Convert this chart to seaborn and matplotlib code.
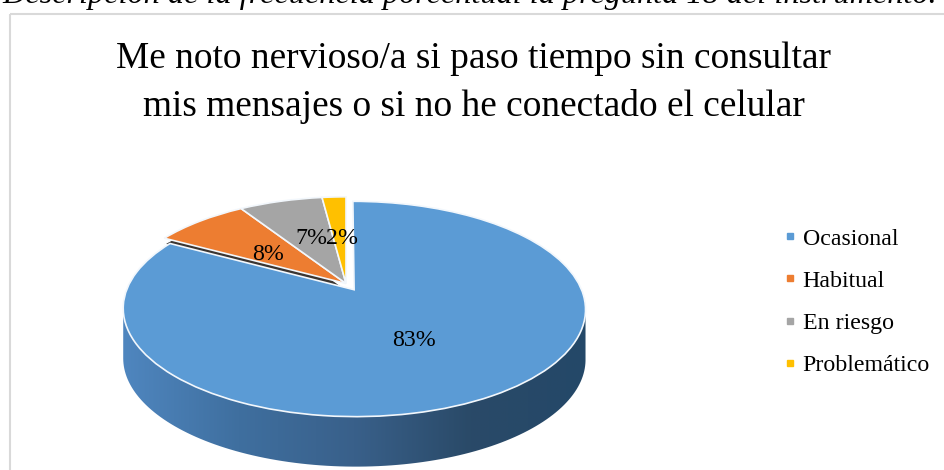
"""
3D style pie chart: Me noto nervioso/a ...
Built from a regular pie whose wedges get a perspective transform.
"""
import numpy as np
import matplotlib
matplotlib.use("Agg")
import matplotlib.pyplot as plt
from matplotlib.lines import Line2D
from matplotlib.patches import Polygon, Rectangle
from matplotlib.transforms import Affine2D, Transform
import seaborn as sns

# --- Data ---
CATEGORIES = ["Ocasional", "Habitual", "En riesgo", "Problemático"]
PERCENTAGES = [83, 8, 7, 2]
EXPLODE = [0.07, 0, 0, 0]
TITLE_LINES = ["Me noto nervioso/a si paso tiempo sin consultar",
               "mis mensajes o si no he conectado el celular"]
CAPTION = "Descripción de la frecuencia porcentual la pregunta 18 del instrumento."
COLORS = ["#5B9BD5", "#ED7D31", "#A5A5A5", "#FFC000"]
WALL_COLORS = ["#4F86BF", "#3F6F9F", "#39608A", "#2A4A68", "#244868"]

# --- Layout (pixels) ---
WIDTH, HEIGHT = 944, 470
ORIGIN_X, ORIGIN_Y = 346.0, 283.5
SCALE_X, SCALE_Y = 225.0, 102.0
TILT = 0.177
WALL_HEIGHT = 50
SIDE_DEPTH = 6
SERIF = "Liberation Serif"


class TiltTransform(Transform):
    """Maps the unit pie onto a tilted disc, far side compressed."""
    input_dims = 2
    output_dims = 2
    is_separable = False
    has_inverse = False

    def transform_non_affine(self, values):
        x, y = np.asarray(values).T
        w = 1 + TILT * y
        return np.column_stack((ORIGIN_X + SCALE_X * x / w, ORIGIN_Y - SCALE_Y * y / w))


def main():
    sns.set_theme(style="white")
    plt.rcParams["font.family"] = [SERIF, "DejaVu Sans"]

    fig = plt.figure(figsize=(WIDTH / 100, HEIGHT / 100), dpi=100, facecolor="white")
    ax = fig.add_axes([0, 0, 1, 1])

    palette = sns.color_palette(COLORS)
    wedges, _, pct_texts = ax.pie(PERCENTAGES, explode=EXPLODE, colors=palette, startangle=90,
                                  counterclock=False, autopct="%.0f%%",
                                  wedgeprops={"edgecolor": "#F2F7FC", "linewidth": 1.2, "zorder": 3},
                                  textprops={"fontsize": 17.2, "color": "black", "zorder": 5})
    ax.set_aspect("auto")
    tilt = TiltTransform()
    for wedge in wedges:
        wedge.set_transform(tilt + ax.transData)

    # Side face of the detached orange slice, seen in the gap
    side = ax.pie([PERCENTAGES[1], 100 - PERCENTAGES[1]], startangle=90 - 3.6 * PERCENTAGES[0],
                  counterclock=False, colors=["#3B3531", "none"], wedgeprops={"zorder": 1})[0]
    ax.set_aspect("auto")
    for wedge in side:
        wedge.set_transform(tilt + Affine2D().translate(0, SIDE_DEPTH) + ax.transData)
    side[1].set_visible(False)

    # Side wall of the big slice, a horizontal gradient clipped to the rim
    shift = wedges[0].center
    angles = np.radians(np.linspace(190, 350, 120))
    rim = tilt.transform(np.column_stack((np.cos(angles) + shift[0], np.sin(angles) + shift[1])))
    outline = np.vstack((rim, rim[::-1] + [0, WALL_HEIGHT]))
    wall_cmap = sns.blend_palette(WALL_COLORS, as_cmap=True)
    image = ax.imshow(np.linspace(0, 1, 256)[None, :], cmap=wall_cmap, aspect="auto", zorder=2,
                      extent=(rim[:, 0].min(), rim[:, 0].max(), HEIGHT, 280))
    clip = Polygon(outline, closed=True, transform=ax.transData, facecolor="none", edgecolor="none")
    ax.add_patch(clip)
    image.set_clip_path(clip)

    ax.set_xlim(0, WIDTH)
    ax.set_ylim(HEIGHT, 0)
    ax.axis("off")

    # Data labels
    label_xy = [(414, 341), (268, 254), (311, 238), (342, 238)]
    for text, xy in zip(pct_texts, label_xy):
        text.set_position(xy)
        text.set_ha("center")
        text.set_va("center")

    # Chart frame and caption cut by the page edge
    ax.add_patch(Rectangle((10, 13.5), WIDTH, HEIGHT, facecolor="none", edgecolor="#D9D9D9", linewidth=1.5, zorder=0))
    ax.text(470, 3, CAPTION, fontsize=23.2, style="italic", ha="center", va="baseline", color="black")

    # Title
    for line, y in zip(TITLE_LINES, [59, 107]):
        ax.text(474, y, line, fontsize=26.9, ha="center", va="center", color="black")

    # Legend
    handles = [Line2D([], [], linestyle="none", marker="s", markersize=5, color=c) for c in palette]
    legend = ax.legend(handles, CATEGORIES, loc="center left", bbox_to_anchor=(766, 302),
                       bbox_transform=ax.transData, frameon=False, fontsize=17.2, labelcolor="black",
                       labelspacing=0.85, handlelength=1.0, handletextpad=0.03, borderpad=0)
    legend.set_zorder(5)

    fig.savefig("out.png", dpi=100)


if __name__ == "__main__":
    main()
